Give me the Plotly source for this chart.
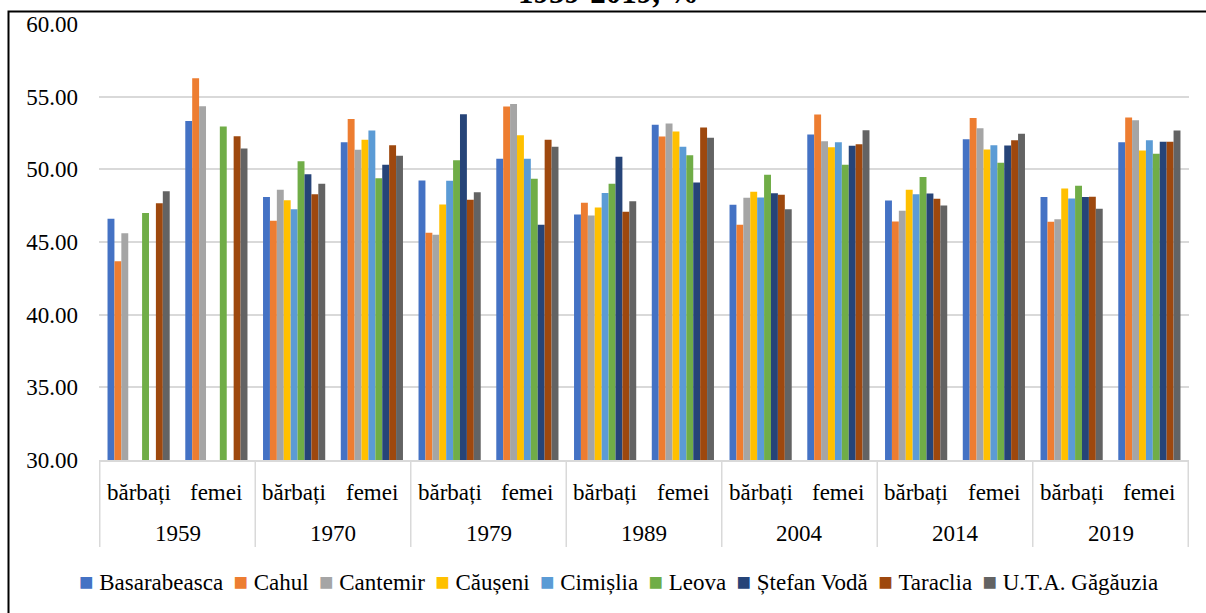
import plotly.graph_objects as go

# Population structure by sex in the southern districts, %
years = ["1959", "1970", "1979", "1989", "2004", "2014", "2019"]
sexes = ["bărbați", "femei"]

districts = ["Basarabeasca", "Cahul", "Cantemir", "Căușeni", "Cimișlia",
             "Leova", "Ștefan Vodă", "Taraclia", "U.T.A. Găgăuzia"]
colors = ["#4472C4", "#ED7D31", "#A5A5A5", "#FFC000", "#5B9BD5",
          "#70AD47", "#264478", "#9E480E", "#636363"]

# values per district, order: 1959 b, 1959 f, 1970 b, 1970 f, ... 2019 b, 2019 f
basarabeasca = [46.60, 53.33, 48.09, 51.87, 49.23, 50.72, 46.90, 53.06, 47.56, 52.39, 47.86, 52.07, 48.09, 51.87]
cahul        = [43.67, 56.27, 46.46, 53.47, 45.64, 54.32, 47.70, 52.26, 46.19, 53.77, 46.41, 53.54, 46.39, 53.56]
cantemir     = [45.61, 54.34, 48.59, 51.34, 45.50, 54.50, 46.83, 53.15, 48.04, 51.94, 47.15, 52.83, 46.57, 53.38]
causeni      = [None,  None,  47.88, 52.03, 47.58, 52.35, 47.38, 52.60, 48.45, 51.52, 48.59, 51.36, 48.68, 51.29]
cimislia     = [None,  None,  47.26, 52.67, 49.21, 50.72, 48.38, 51.55, 48.06, 51.87, 48.29, 51.66, 48.00, 52.00]
leova        = [46.99, 52.94, 50.56, 49.39, 50.63, 49.35, 49.00, 50.97, 49.62, 50.31, 49.48, 50.45, 48.87, 51.07]
stefan_voda  = [None,  None,  49.67, 50.31, 53.79, 46.19, 50.86, 49.10, 48.36, 51.62, 48.34, 51.64, 48.09, 51.89]
taraclia     = [47.67, 52.28, 48.29, 51.66, 47.90, 52.03, 47.08, 52.88, 48.25, 51.73, 47.97, 52.00, 48.11, 51.89]
gagauzia     = [48.50, 51.43, 49.00, 50.93, 48.43, 51.55, 47.81, 52.17, 47.26, 52.69, 47.51, 52.44, 47.29, 52.67]

series = [basarabeasca, cahul, cantemir, causeni, cimislia,
          leova, stefan_voda, taraclia, gagauzia]

categories = [f"{y} {s}" for y in years for s in sexes]

FONT = "Liberation Serif"
GRID = "#d9d9d9"

fig = go.Figure()
for name, col, vals in zip(districts, colors, series):
    fig.add_trace(go.Bar(
        x=categories, y=vals, name=name,
        marker=dict(color=col, line=dict(width=0)),
    ))

# plot area size in px, used to convert offsets outside the axes
plot_h = 613 - 24 - 153
plot_w = 1206 - 99 - 17

annotations = []
shapes = []

# sub-category labels
for i, cat in enumerate(categories):
    annotations.append(dict(
        x=i, xref="x", y=-32 / plot_h, yref="paper",
        text=sexes[i % 2], showarrow=False,
        font=dict(family=FONT, size=23, color="#000000"),
        xanchor="center", yanchor="middle",
    ))

# year labels
for k, yr in enumerate(years):
    annotations.append(dict(
        x=2 * k + 0.5, xref="x", y=-73 / plot_h, yref="paper",
        text=yr, showarrow=False,
        font=dict(family=FONT, size=23, color="#000000"),
        xanchor="center", yanchor="middle",
    ))

# group dividers under the axis
for k in range(len(years) + 1):
    shapes.append(dict(
        type="line", xref="x", yref="paper",
        x0=2 * k - 0.5, x1=2 * k - 0.5, y0=0, y1=-87 / plot_h,
        line=dict(color=GRID, width=1.5),
    ))

# legend row: coloured square + district name
parts = []
for name, col in zip(districts, colors):
    parts.append(f'<span style="color:{col};font-size:24px">■</span>\u00a0{name}')
annotations.append(dict(
    x=(618 - 99) / plot_w, xref="paper", y=-122 / plot_h, yref="paper",
    text="\u2009\u00a0".join(parts), showarrow=False,
    font=dict(family=FONT, size=23, color="#000000"),
    xanchor="center", yanchor="middle",
))

# title (top line partly outside the frame)
annotations.append(dict(
    x=(608 - 99) / plot_w, xref="paper", y=1 + 31 / plot_h, yref="paper",
    text="<b>1959-2019, %</b>", showarrow=False,
    font=dict(family=FONT, size=31, color="#000000"),
    xanchor="center", yanchor="middle",
))

# outer frame
shapes.append(dict(
    type="rect", xref="paper", yref="paper",
    x0=(8.5 - 99) / plot_w, x1=1.1, y0=-0.5, y1=1 + (24 - 11.5) / plot_h,
    line=dict(color="#000000", width=2), fillcolor="rgba(0,0,0,0)",
    layer="above",
))

fig.update_layout(
    width=1206, height=613,
    margin=dict(l=99, r=17, t=24, b=153),
    paper_bgcolor="white", plot_bgcolor="white",
    barmode="group", bargap=0.2, bargroupgap=0,
    showlegend=False,
    font=dict(family=FONT, size=23, color="#000000"),
    xaxis=dict(
        type="category", showticklabels=False, showgrid=False,
        showline=True, linecolor=GRID, linewidth=1.5,
        ticks="", zeroline=False, fixedrange=True,
    ),
    yaxis=dict(
        range=[30, 60], dtick=5, tick0=30, tickformat=".2f",
        showgrid=True, gridcolor=GRID, gridwidth=1.5,
        showline=False, zeroline=False, ticks="",
        ticklabelstandoff=20,
        tickfont=dict(family=FONT, size=23, color="#000000"),
    ),
    annotations=annotations,
    shapes=shapes,
)

fig.write_html("out.html")
